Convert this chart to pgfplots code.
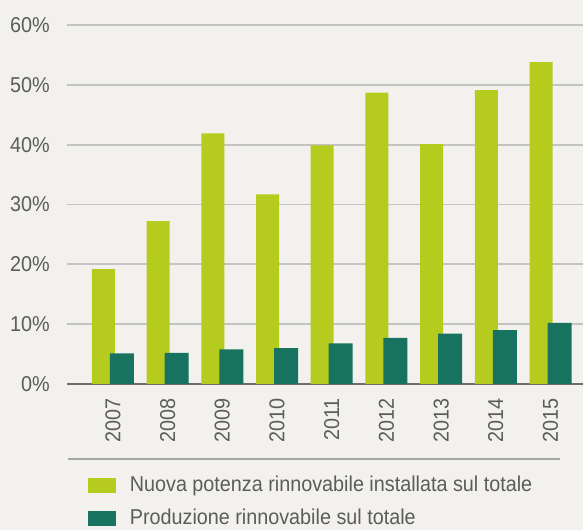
\documentclass[border=0pt]{standalone}
\usepackage{fontspec}
\setmainfont{Liberation Sans}[FakeStretch=0.92]
\usepackage{pgfplots}
\pgfplotsset{compat=1.18}

\definecolor{bgcol}{HTML}{F2F1EE}
\definecolor{lightgreen}{HTML}{B5CC1E}
\definecolor{darkteal}{HTML}{17725F}
\definecolor{gridcol}{HTML}{C3C3C1}
\definecolor{axiscol}{HTML}{6E6E6E}
\definecolor{txtcol}{HTML}{5C5C5C}

\pgfplotstableread{
idx year potenza produzione
0 2007 19.2 5.1
1 2008 27.2 5.2
2 2009 41.9 5.8
3 2010 31.7 6.0
4 2011 39.9 6.8
5 2012 48.7 7.7
6 2013 40.1 8.4
7 2014 49.1 9.0
8 2015 53.8 10.2
}\datatable

\begin{document}
\begin{tikzpicture}[x=1bp,y=1bp]
\fill[bgcol] (0,0) rectangle (583,530);
\begin{axis}[
  at={(67bp,146bp)}, anchor=south west,
  scale only axis,
  width=516bp, height=359bp,
  xmin=-0.84, xmax=8.594,
  ymin=0, ymax=60,
  clip=false,
  axis x line=bottom,
  axis y line=left,
  x axis line style={draw=axiscol, line width=2bp, -},
  y axis line style={draw=none},
  ytick={0,10,20,30,40,50,60},
  yticklabels={0\%,10\%,20\%,30\%,40\%,50\%,60\%},
  xtick={0,1,2,3,4,5,6,7,8},
  xticklabels={2007,2008,2009,2010,2011,2012,2013,2014,2015},
  ymajorgrids,
  grid style={draw=gridcol, line width=1.8bp},
  major tick length=0pt,
  tick style={draw=none},
  tick label style={font=\fontsize{21.5bp}{24bp}\selectfont, text=txtcol, inner sep=0pt},
  yticklabel style={anchor=east},
  yticklabel shift=17bp,
  xticklabel style={rotate=90, anchor=east},
  xticklabel shift=14bp,
  legend style={
    at={(axis description cs:0.04,-0.253)}, anchor=north west,
    draw=none, fill=none, inner sep=0pt,
    font=\fontsize{21.5bp}{24bp}\selectfont, text=txtcol,
    row sep=12bp,
    nodes={inner sep=1bp, text height=15bp, text depth=4bp},
    /tikz/every odd column/.append style={column sep=13bp},
  },
  legend cell align=left,
  legend image code/.code={\fill[#1, draw=none] (0bp,-7.5bp) rectangle (28bp,7.5bp);},
]
\addplot[ybar, bar width=23bp, bar shift=-9.5bp, fill=lightgreen, draw=none]
  table[x=idx, y=potenza] {\datatable};
\addlegendentry{Nuova potenza rinnovabile installata sul totale}
\addplot[ybar, bar width=24bp, bar shift=9bp, fill=darkteal, draw=none]
  table[x=idx, y=produzione] {\datatable};
\addlegendentry{Produzione rinnovabile sul totale}
% separator between the year labels and the legend
\draw[draw=gridcol!85!black, line width=2bp]
  (axis description cs:0.002,-0.209) -- (axis description cs:0.955,-0.209);
\end{axis}
\pgfresetboundingbox
\path[use as bounding box] (0,0) rectangle (583,530);
\end{tikzpicture}
\end{document}
